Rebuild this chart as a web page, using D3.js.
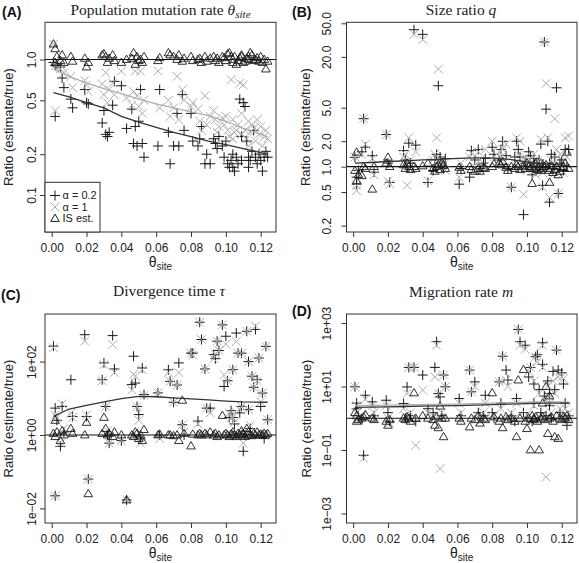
<!DOCTYPE html>
<html><head><meta charset="utf-8">
<script src="https://cdn.jsdelivr.net/npm/d3@7/dist/d3.min.js"></script>
<style>body{margin:0;background:#fff}</style>
</head><body><svg id="chart" width="579" height="563"></svg>
<script>
// ---- data: theta_site of each simulated dataset ----
const theta = [0.001,0.002,0.002,0.003,0.005,0.006,0.007,0.011,0.012,0.019,
 0.020,0.021,0.029,0.030,0.031,0.032,0.033,0.035,0.036,0.040,
 0.043,0.046,0.047,0.048,0.049,0.050,0.051,0.052,0.053,0.061,
 0.062,0.067,0.068,0.070,0.072,0.073,0.075,0.076,0.080,0.081,
 0.084,0.085,0.086,0.088,0.089,0.091,0.093,0.094,0.095,0.096,
 0.098,0.099,0.100,0.101,0.102,0.103,0.104,0.104,0.105,0.106,
 0.107,0.108,0.109,0.109,0.110,0.111,0.112,0.113,0.113,0.114,
 0.115,0.116,0.117,0.118,0.119,0.120,0.121,0.122,0.123,0.124];

// (A) population mutation rate ratios
const thetaA02 = [0.95,0.38,0.90,0.92,0.88,0.73,0.62,0.51,0.44,0.60,
 0.48,0.47,0.34,0.42,0.28,0.27,0.29,0.46,0.69,0.64,
 0.31,0.43,0.24,0.32,0.23,0.35,0.60,0.24,0.19,0.23,
 0.60,0.29,0.17,0.23,0.40,0.23,0.55,0.30,0.40,0.25,
 0.23,0.26,0.32,0.17,0.20,0.17,0.26,0.24,0.22,0.27,
 0.23,0.19,0.25,0.17,0.16,0.18,0.20,0.16,0.15,0.19,
 0.17,0.51,0.27,0.18,0.48,0.45,0.25,0.19,0.16,0.18,
 0.21,0.30,0.19,0.17,0.20,0.18,0.15,0.19,0.21,0.19];
const thetaA1 = [1.30,0.42,0.90,0.95,0.85,0.88,0.80,0.75,0.62,0.70,
 0.65,0.58,0.66,0.55,0.80,0.48,0.60,0.67,0.55,0.82,
 0.52,0.46,0.58,0.82,0.54,0.45,0.82,0.40,0.50,0.82,
 0.44,0.50,0.38,0.44,0.75,0.36,0.60,0.50,0.45,0.48,
 0.43,0.35,0.30,0.54,0.33,0.38,0.42,0.36,0.29,0.32,
 0.37,0.33,0.38,0.30,0.27,0.71,0.26,0.36,0.29,0.30,
 0.33,0.67,0.28,0.40,0.65,0.30,0.26,0.35,0.23,0.29,
 0.33,0.31,0.25,0.36,0.28,0.32,0.23,0.27,0.30,0.26];
const thetaIS = [1.30,1.20,0.95,1.05,0.98,1.08,0.95,1.05,0.97,1.02,
 0.88,0.95,1.08,1.10,1.05,0.95,1.02,1.08,0.98,0.95,
 1.00,1.02,1.12,0.92,1.05,0.98,1.00,0.95,1.05,0.98,
 1.03,1.12,1.08,1.05,1.00,1.08,0.97,1.02,1.05,0.98,
 1.00,1.02,0.95,1.05,0.97,1.02,1.05,0.98,1.02,0.95,
 1.05,1.03,0.98,1.10,1.12,1.05,0.95,1.00,1.05,0.92,
 0.98,1.03,1.08,1.05,0.95,0.97,1.02,1.00,1.05,1.12,
 1.08,0.98,1.00,1.03,0.97,1.05,0.95,1.00,0.85,0.97];

// (B) size ratio q
const qA02 = [1.29,0.75,0.62,0.90,1.50,3.70,1.70,1.35,0.86,2.40,
 1.10,0.65,1.55,1.20,1.00,1.90,1.10,42,1.80,37,
 0.65,0.90,1.20,1.40,9.1,1.30,1.10,0.95,1.25,0.62,
 0.95,0.75,1.55,1.20,1.60,0.95,1.10,1.25,1.70,1.40,
 1.20,1.60,2.00,1.35,0.95,0.57,1.30,2.00,1.60,1.30,
 0.27,1.10,1.00,1.50,1.35,0.80,1.10,1.25,0.90,1.00,
 1.20,1.85,0.60,1.00,30,4.8,2.00,0.38,1.10,1.40,
 0.95,1.30,8.6,0.48,1.10,1.20,0.90,1.60,1.00,1.60];
const qA1 = [1.30,0.52,0.60,0.85,1.40,3.70,1.85,1.25,0.80,2.40,
 0.68,0.62,1.30,1.40,0.60,2.20,1.20,37,1.50,32,
 0.68,1.20,1.40,2.20,14.4,1.20,1.00,1.05,0.90,0.75,
 1.10,1.30,1.45,1.00,1.50,1.20,1.00,1.60,2.00,1.30,
 1.50,1.30,1.60,1.85,1.00,0.57,1.10,2.20,1.40,2.00,
 0.47,1.30,0.90,1.20,1.20,1.00,0.90,1.40,0.80,1.15,
 1.00,2.10,0.57,0.85,30,9.7,2.20,0.43,1.00,1.20,
 0.80,3.70,1.60,0.48,1.40,1.00,0.85,2.20,1.30,2.30];
const qIS = [0.90,1.48,0.68,0.80,0.78,1.00,0.95,0.54,1.00,1.10,
 1.29,1.00,1.05,0.95,1.10,1.00,0.92,1.00,0.95,1.02,
 1.10,0.95,0.88,1.00,1.05,0.92,1.10,1.05,0.95,0.98,
 0.90,1.00,0.92,0.88,0.95,0.88,0.98,0.95,1.00,1.08,
 1.10,1.05,1.15,0.98,0.90,1.00,0.95,1.05,1.00,0.92,
 1.02,0.95,1.10,1.00,0.95,0.63,1.05,0.95,1.08,0.92,
 1.00,0.90,1.05,0.95,1.00,1.05,0.95,0.65,0.90,1.02,
 0.85,0.92,1.00,0.80,0.88,0.95,1.00,1.10,1.48,0.95];

// (C) divergence time tau
const tauA02 = [263,0.022,5.4,2.5,0.49,6.0,1.2,32,3.2,540,
 3.2,0.063,32,92,6.0,1.0,0.6,510,63,0.7,
 0.017,23.6,140,26,6.0,3.6,0.78,67,12.6,14,
 1.0,60,29,7.8,23,92,1.9,1.0,170,170,
 2.4,1180,400,63,5.4,5.4,155,120,360,200,
 1000,21,490,30,3.0,4.6,60,3.0,2.0,600,
 170,4.0,6.0,170,0.36,1.0,670,100,4.9,1.5,
 40,20,750,32,125,6.0,13.9,0.8,260,2.6];
const tauA1 = [240,0.022,3.5,3.0,0.6,7.0,1.5,4.0,3.0,360,
 3.5,0.063,30,83,6.0,1.3,0.6,290,50,0.7,
 0.017,17,45,40,6.0,2.5,0.6,60,12,14,
 0.8,50,29,7.8,23,50,1.9,1.2,170,150,
 2.0,1180,400,63,5.4,4.0,120,160,360,200,
 1000,44,300,30,4.0,3.0,60,3.0,2.2,350,
 170,5.0,6.0,170,0.6,1.2,670,100,4.9,1.8,
 40,20,930,30,125,8.0,13.9,1.0,260,2.6];
const tauIS = [1.1,2.5,0.9,1.2,0.7,1.3,1.0,1.5,1.1,1.0,
 2.2,0.025,1.1,3.0,1.5,1.0,1.1,0.9,1.2,1.0,
 0.017,1.0,0.9,1.2,1.1,0.8,1.0,0.7,1.4,1.0,
 1.05,1.0,1.0,0.95,1.0,0.7,8.8,1.1,0.5,1.05,
 1.0,1.1,1.0,1.1,1.0,1.2,1.0,1.1,0.9,1.0,
 3.4,1.0,1.1,1.0,0.9,1.05,1.0,1.2,1.0,0.9,
 1.1,1.0,1.3,1.0,1.1,0.9,1.5,1.0,1.2,1.0,
 0.95,1.1,1.0,1.2,1.0,1.05,1.0,1.1,1.0,1.1];

// (D) migration rate m
const mA02 = [9.8,3.0,2.0,1.2,0.9,0.068,5.3,3.3,1.2,3.7,
 1.5,0.8,2.9,1.0,9.7,40,1.2,40,0.8,23,
 2.0,1.5,40,260,6.0,4.7,1.2,23,9.8,4.2,
 1.2,33,6.8,14,1.5,1.0,1.2,5.3,1.5,1.0,
 14,3.0,90,33,16,1.2,0.8,4.2,630,260,
 1.5,200,1.0,20,40,0.8,12,3.0,87,100,
 8.0,1.5,240,50,5.0,1.2,15,2.5,6.0,1.0,
 30,8.0,140,33,1.5,27,12,3.0,0.6,1.2];
const mA1 = [9.8,2.5,1.5,1.0,1.2,0.055,4.0,2.5,1.5,2.5,
 1.0,0.7,2.0,1.2,6.0,40,1.5,40,0.14,7.7,
 1.5,1.2,20,200,6.0,0.026,1.5,23,9.8,3.0,
 1.5,33,6.8,10,1.2,0.8,1.5,3.0,1.0,1.2,
 14,2.0,90,16,10,1.5,1.0,3.0,630,200,
 1.0,150,1.3,30,40,1.0,15,2.5,87,60,
 6.0,1.0,200,40,4.0,0.014,10,3.0,5.0,1.5,
 15,6.0,140,20,2.0,20,18,2.0,1.0,1.5];
const mIS = [1.5,1.2,0.8,0.9,1.0,1.1,1.3,1.0,0.9,0.8,
 0.6,0.9,1.0,0.9,1.1,1.0,0.8,6.3,1.0,1.2,
 1.0,0.9,0.6,1.1,0.5,2.4,1.0,0.26,1.0,1.0,
 0.8,0.53,1.0,0.9,1.2,0.7,1.0,0.9,6.3,1.1,
 0.8,1.0,0.5,1.1,0.9,1.0,0.8,0.26,16,1.0,
 34,0.8,0.47,1.0,0.1,1.2,0.9,1.0,1.1,0.8,
 0.1,1.0,3.0,1.1,0.9,10,0.33,1.0,5.0,1.1,
 0.8,0.26,1.2,0.23,1.0,0.9,1.1,1.0,1.2,0.9];

// smoothed trend lines
const lineTheta = [0.001,0.01,0.02,0.03,0.04,0.05,0.06,0.07,0.08,0.09,0.10,0.11,0.124];
const trendA02 = [0.57,0.53,0.48,0.44,0.38,0.345,0.315,0.29,0.27,0.25,0.235,0.22,0.20];
const trendA1  = [0.85,0.75,0.67,0.61,0.56,0.51,0.47,0.44,0.41,0.385,0.35,0.31,0.27];
const trendB02 = [1.10,1.12,1.15,1.17,1.20,1.22,1.25,1.27,1.27,1.22,1.14,1.08,1.03];
const trendC02 = [3.2,5.1,6.4,8.0,9.8,11.3,11.0,10.3,9.6,9.0,8.4,8.0,7.8];
const trendD02 = [2.2,2.25,2.3,2.35,2.4,2.45,2.5,2.6,2.7,2.8,2.9,3.0,3.0];
const trendD1  = [2.5,2.55,2.6,2.65,2.7,2.75,2.8,2.9,3.0,3.1,3.2,3.3,3.3];

// ticks
const xTicks = [0,0.02,0.04,0.06,0.08,0.10,0.12];
const xTickLabels = ["0.00","0.02","0.04","0.06","0.08","0.10","0.12"];
const yTicksA = [0.1,0.2,0.5,1.0], yLabelsA = ["0.1","0.2","0.5","1.0"];
const yTicksB = [0.2,0.5,1,2,5,20,50], yLabelsB = ["0.2","0.5","1.0","2.0","5.0","20.0","50.0"];
const yTicksC = [0.01,1,100], yLabelsC = ["1e\u221202","1e+00","1e+02"];
const yTicksD = [0.001,0.1,10,1000], yLabelsD = ["1e\u221203","1e\u221201","1e+01","1e+03"];
const legendLabels = ["\u03b1 = 0.2","\u03b1 = 1","IS est."];

// ---- drawing ----
const svg = d3.select("#chart");
const GREY = "#adadad";
const sans = "'Liberation Sans', Arial, sans-serif";
const serif = "'Liberation Serif', 'Times New Roman', serif";

const panels = [
  {tag:"(A)", tagX:2, tagY:17, title:["Population mutation rate ","\u03b8","site"], titleX:160.5, titleY:15,
   box:[45,276,22.3,232], ydom:[0.0533,1.882], yt:yTicksA, yl:yLabelsA, labOff:13, ytitleX:8.5,
   s02:thetaA02, s1:thetaA1, sIS:thetaIS, t02:trendA02, t1:trendA1, legend:true},
  {tag:"(B)", tagX:292, tagY:17, title:["Size ratio ","q"], titleX:461, titleY:15,
   box:[346.5,577,22.3,232], ydom:[0.168,51.4], yt:yTicksB, yl:yLabelsB, labOff:19.5, ytitleX:305,
   s02:qA02, s1:qA1, sIS:qIS, t02:trendB02},
  {tag:"(C)", tagX:1, tagY:300, title:["Divergence time ","\u03c4"], titleX:169, titleY:296,
   box:[45,276,314,523], ydom:[0.004,1980], yt:yTicksC, yl:yLabelsC, labOff:13, ytitleX:8.5,
   s02:tauA02, s1:tauA1, sIS:tauIS, t02:trendC02},
  {tag:"(D)", tagX:292, tagY:316, title:["Migration rate ","m"], titleX:461, titleY:297,
   box:[346.5,577,314,523], ydom:[0.0005,1930], yt:yTicksD, yl:yLabelsD, labOff:19.5, ytitleX:306,
   s02:mA02, s1:mA1, sIS:mIS, t02:trendD02, t1:trendD1}
];

const plusPath = (x,y)=>`M${x-5},${y}h10M${x},${y-5}v10`;
const crossPath = (x,y)=>`M${x-4.3},${y-4.3}l8.6,8.6M${x-4.3},${y+4.3}l8.6,-8.6`;
const triPath = (x,y)=>`M${x},${y-4.4}L${x+4.3},${y+2.9}L${x-4.3},${y+2.9}Z`;

panels.forEach(p=>{
  const [x0,x1,y0,y1] = p.box;
  const x = d3.scaleLinear().domain([-0.00385,0.1288]).range([x0,x1]);
  const y = d3.scaleLog().domain(p.ydom).range([y1,y0]);
  const g = svg.append("g");

  g.append("text").attr("x",p.tagX).attr("y",p.tagY).attr("font-family",sans)
    .attr("font-weight","bold").attr("font-size",14).attr("fill","#111").text(p.tag);
  const t = g.append("text").attr("x",p.titleX).attr("y",p.titleY).attr("text-anchor","middle")
    .attr("font-family",serif).attr("font-size",15.5).attr("fill","#222");
  t.append("tspan").text(p.title[0]);
  t.append("tspan").attr("font-style","italic").text(p.title[1]);
  if (p.title[2]) t.append("tspan").attr("font-style","italic").attr("font-size",11).attr("dy",3).text(p.title[2]);

  const clipId = "clip"+p.tag.replace(/\W/g,"");
  svg.append("clipPath").attr("id",clipId).append("rect")
    .attr("x",x0).attr("y",y0).attr("width",x1-x0).attr("height",y1-y0);
  const plot = g.append("g").attr("clip-path",`url(#${clipId})`);

  plot.append("line").attr("x1",x0).attr("x2",x1).attr("y1",y(1)).attr("y2",y(1))
    .attr("stroke","#111").attr("stroke-width",1.1);

  plot.selectAll(".p02").data(theta).join("path").attr("class","p02")
    .attr("d",(d,i)=>plusPath(x(d),y(p.s02[i]))).attr("stroke","#1a1a1a").attr("stroke-width",1).attr("fill","none");
  plot.selectAll(".p1").data(theta).join("path").attr("class","p1")
    .attr("d",(d,i)=>crossPath(x(d),y(p.s1[i]))).attr("stroke",GREY).attr("stroke-width",1).attr("fill","none");
  plot.selectAll(".pis").data(theta).join("path").attr("class","pis")
    .attr("d",(d,i)=>triPath(x(d),y(p.sIS[i]))).attr("stroke","#1a1a1a").attr("stroke-width",0.9).attr("fill","none");

  const line = d3.line().x(d=>x(d[0])).y(d=>y(d[1]));
  if (p.t1) plot.append("path").attr("d",line(lineTheta.map((v,i)=>[v,p.t1[i]])))
    .attr("fill","none").attr("stroke",GREY).attr("stroke-width",1.3);
  plot.append("path").attr("d",line(lineTheta.map((v,i)=>[v,p.t02[i]])))
    .attr("fill","none").attr("stroke","#333").attr("stroke-width",1.3);

  g.append("rect").attr("x",x0).attr("y",y0).attr("width",x1-x0).attr("height",y1-y0)
    .attr("fill","none").attr("stroke","#333").attr("stroke-width",1);

  const xa = g.append("g").attr("transform",`translate(0,${y1})`)
    .call(d3.axisBottom(x).tickValues(xTicks).tickFormat((d,i)=>xTickLabels[i]).tickSize(5).tickSizeOuter(0));
  xa.select(".domain").remove();
  xa.selectAll("line").attr("stroke","#333");
  xa.selectAll("text").attr("y",20).attr("dy",0).attr("font-family",sans).attr("font-size",12).attr("fill","#222");

  const ya = g.append("g").attr("transform",`translate(${x0},0)`)
    .call(d3.axisLeft(y).tickValues(p.yt).tickFormat((d,i)=>p.yl[i]).tickSize(5).tickSizeOuter(0));
  ya.select(".domain").remove();
  ya.selectAll("line").attr("stroke","#333");
  ya.selectAll("text").attr("transform","rotate(-90)").attr("x",0).attr("y",-p.labOff)
    .attr("dy","0.35em").attr("text-anchor","middle").attr("font-family",sans).attr("font-size",12).attr("fill","#222");

  const xt = g.append("text").attr("x",(x0+x1)/2).attr("y",y1+35).attr("text-anchor","middle")
    .attr("font-family",sans).attr("font-size",14).attr("fill","#222");
  xt.append("tspan").text("\u03b8");
  xt.append("tspan").attr("font-size",10).attr("dy",3).text("site");
  g.append("text").attr("transform",`translate(${p.ytitleX},${(y0+y1)/2}) rotate(-90)`)
    .attr("dy","0.35em").attr("text-anchor","middle").attr("font-family",sans).attr("font-size",13)
    .attr("fill","#222").text("Ratio (estimate/true)");

  if (p.legend) {
    const lx0 = x0, ly0 = 182.3, lw = 55, lh = y1-182.3;
    g.append("rect").attr("x",lx0).attr("y",ly0).attr("width",lw).attr("height",lh)
      .attr("fill","#fff").attr("stroke","#333").attr("stroke-width",1);
    const rows = [195.5,207,218.5];
    const shapes = [plusPath, crossPath, triPath];
    const cols = ["#1a1a1a",GREY,"#1a1a1a"];
    legendLabels.forEach((lab,i)=>{
      g.append("path").attr("d",shapes[i](lx0+10,rows[i])).attr("stroke",cols[i]).attr("fill","none")
        .attr("stroke-width",1);
      g.append("text").attr("x",lx0+17.5).attr("y",rows[i]).attr("dy","0.35em")
        .attr("font-family",sans).attr("font-size",11).attr("fill","#222").text(lab);
    });
  }
});
</script></body></html>
